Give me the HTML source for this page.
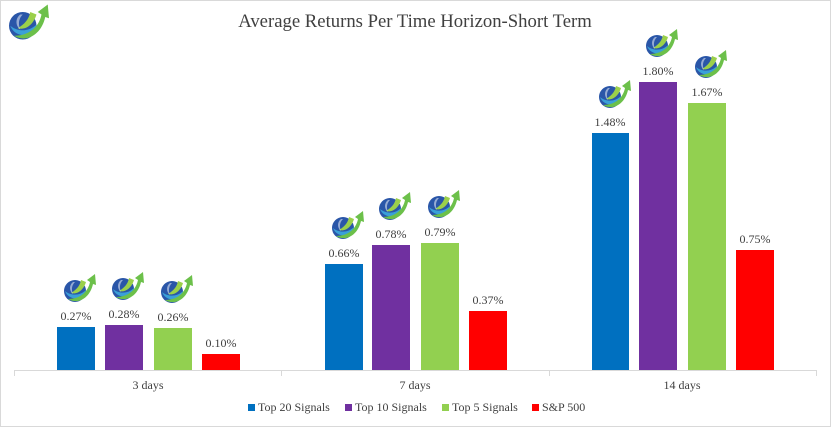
<!DOCTYPE html>
<html><head><meta charset="utf-8"><style>
body{margin:0;background:#fff}
svg{display:block;font-family:"Liberation Serif",serif}
</style></head><body>
<svg width="831" height="427" viewBox="0 0 831 427" xmlns="http://www.w3.org/2000/svg">
<defs>
<g id="logo">
<circle cx="15" cy="19" r="11" fill="#2a56a8"/>
<path d="M5 19 C8 27 18 29 25 23 L26 18 C20 24 11 24 5 19Z" fill="#3aa0d8"/>
<path d="M8 27 C18 33 30 26 33 12 L36 13 L35 2 L27 8 L30 10 C28 20 20 27 8 27Z" fill="#6cc04a"/>
<path d="M11 21 C18 23 24 17 26 10 L21 8 C20 14 16 18 11 21Z" fill="#9bd04a"/>
<path d="M13 10 C9 13 9 19 13 22 C11 17 12 13 15 10Z" fill="#fff" opacity="0.5"/>
</g>
</defs>
<rect x="0.5" y="0.5" width="830" height="426" fill="#fff" stroke="#d9d9d9"/>
<use href="#logo" transform="translate(4,2) scale(1.25)"/>
<text x="415" y="27" text-anchor="middle" font-size="18.7" fill="#404040">Average Returns Per Time Horizon-Short Term</text>
<line x1="14" y1="370.5" x2="817" y2="370.5" stroke="#d9d9d9"/>
<g stroke="#d9d9d9"><line x1="14.5" y1="370" x2="14.5" y2="376"/><line x1="281.5" y1="370" x2="281.5" y2="376"/><line x1="549.5" y1="370" x2="549.5" y2="376"/><line x1="816.5" y1="370" x2="816.5" y2="376"/></g>
<g>
<rect x="57" y="327" width="38" height="43" fill="#0070c0"/>
<rect x="105" y="325" width="38" height="45" fill="#7030a0"/>
<rect x="154" y="328" width="38" height="42" fill="#92d050"/>
<rect x="202" y="354" width="38" height="16" fill="#ff0000"/>
<rect x="325" y="264" width="38" height="106" fill="#0070c0"/>
<rect x="372" y="245" width="38" height="125" fill="#7030a0"/>
<rect x="421" y="243" width="38" height="127" fill="#92d050"/>
<rect x="469" y="311" width="38" height="59" fill="#ff0000"/>
<rect x="592" y="133" width="37" height="237" fill="#0070c0"/>
<rect x="639" y="82" width="38" height="288" fill="#7030a0"/>
<rect x="688" y="103" width="38" height="267" fill="#92d050"/>
<rect x="736" y="250" width="38" height="120" fill="#ff0000"/>
</g>
<g font-size="12" fill="#404040" text-anchor="middle">
<text x="76" y="320">0.27%</text><text x="124" y="318">0.28%</text><text x="173" y="321">0.26%</text><text x="221" y="347">0.10%</text>
<text x="344" y="257">0.66%</text><text x="391" y="238">0.78%</text><text x="440" y="236">0.79%</text><text x="488" y="304">0.37%</text>
<text x="610" y="126">1.48%</text><text x="658" y="75">1.80%</text><text x="707" y="96">1.67%</text><text x="755" y="243">0.75%</text>
</g>
<g>
<use href="#logo" x="60" y="272"/><use href="#logo" x="108" y="270"/><use href="#logo" x="157" y="273"/>
<use href="#logo" x="328" y="209"/><use href="#logo" x="375" y="190"/><use href="#logo" x="424" y="188"/>
<use href="#logo" x="595" y="78"/><use href="#logo" x="642" y="27"/><use href="#logo" x="691" y="48"/>
</g>
<g font-size="12" fill="#404040" text-anchor="middle">
<text x="148" y="389">3 days</text><text x="415" y="389">7 days</text><text x="682" y="389">14 days</text>
</g>
<g font-size="12" fill="#404040">
<rect x="248" y="404" width="7" height="7" fill="#0070c0"/><text x="258" y="411">Top 20 Signals</text>
<rect x="345" y="404" width="7" height="7" fill="#7030a0"/><text x="355" y="411">Top 10 Signals</text>
<rect x="442" y="404" width="7" height="7" fill="#92d050"/><text x="452" y="411">Top 5 Signals</text>
<rect x="532" y="404" width="7" height="7" fill="#ff0000"/><text x="542" y="411">S&amp;P 500</text>
</g>
</svg>
</body></html>
